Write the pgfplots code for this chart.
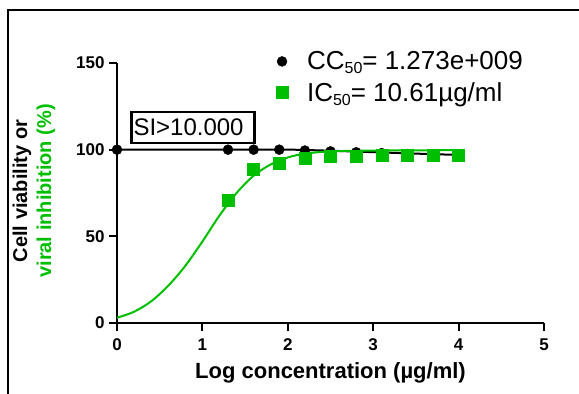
\documentclass[border=0pt]{standalone}
\usepackage{pgfplots}
\pgfplotsset{compat=1.18}
\usepackage{fontspec}
\setmainfont{Liberation Sans}
\definecolor{pgreen}{RGB}{0,190,0}
\begin{document}
\begin{tikzpicture}[x=1pt,y=1pt]
\path[use as bounding box] (0,0) rectangle (579,-394);
\draw[line width=2.5pt] (8,-400) -- (8,-10) -- (590,-10);
\node[rotate=90, font=\fontsize{20}{24}\selectfont\bfseries, text=black] at (22,-191) {Cell viability or};
\node[rotate=90, font=\fontsize{20}{24}\selectfont\bfseries, text=pgreen] at (46,-191) {viral inhibition (\%)};
\begin{axis}[
  at={(117pt,-323pt)}, anchor=south west,
  scale only axis, width=427pt, height=260pt,
  xmin=0, xmax=5, ymin=0, ymax=150,
  axis x line=bottom, axis y line=left,
  axis line style={line width=2.5pt,-},
  tick style={line width=2pt, black},
  tick align=outside, major tick length=8pt,
  xtick={0,1,2,3,4,5}, ytick={0,50,100,150},
  ticklabel style={font=\fontsize{17}{19}\selectfont\bfseries},
  xticklabel style={yshift=-4pt},
  yticklabel style={xshift=-1pt},
  /pgf/number format/assume math mode=true,
  xlabel={Log concentration (µg/ml)},
  xlabel style={font=\fontsize{22}{25}\selectfont\bfseries, yshift=-5pt},
  clip=false,
  legend cell align=left,
  legend style={draw=none, fill=none, at={(0.365,1.06)}, anchor=north west,
    font=\fontsize{26}{30}\selectfont, row sep=7pt},
]
\addplot[black, line width=2pt, smooth, forget plot] coordinates {
(0,100) (1.9,100) (2.2,99.8) (2.5,99.4) (2.8,98.9) (3.1,98.4) (3.4,97.9) (3.7,97.4) (4.0,97)};
\addplot[pgreen, line width=2pt, smooth, forget plot] coordinates {
(0,3) (0.2,6.5) (0.4,12.5) (0.6,21.5) (0.8,33) (1.0,47) (1.2,62) (1.4,75) (1.6,85) (1.8,91.5) (2.0,95.5) (2.2,97.7) (2.5,99) (3.0,99.5) (4.0,99.7)};
\addplot[only marks, mark=*, mark size=5pt, black] coordinates {
(0,100) (1.3,100) (1.6,100) (1.9,100) (2.2,99.5) (2.5,99) (2.8,98.5) (3.1,98) (3.4,97.5) (3.7,97) (4.0,97)};
\addlegendentry{\hspace{17pt}CC\raisebox{-0.3ex}{\fontsize{16}{16}\selectfont 50}= 1.273e+009}
\addplot[only marks, mark=square*, mark size=6pt, pgreen] coordinates {
(1.3,71) (1.6,89) (1.9,92) (2.2,95) (2.5,96) (2.8,96.5) (3.1,97) (3.4,97) (3.7,97) (4.0,97)};
\addlegendentry{\hspace{17pt}IC\raisebox{-0.3ex}{\fontsize{16}{16}\selectfont 50}= 10.61µg/ml}
\node[draw, line width=2.5pt, fill=white, inner xsep=2pt, text width=119pt, align=left,
  minimum height=31pt, font=\fontsize{24}{26}\selectfont] at (axis cs:0.89,112.8) {SI>10.000};
\end{axis}
\end{tikzpicture}
\end{document}
